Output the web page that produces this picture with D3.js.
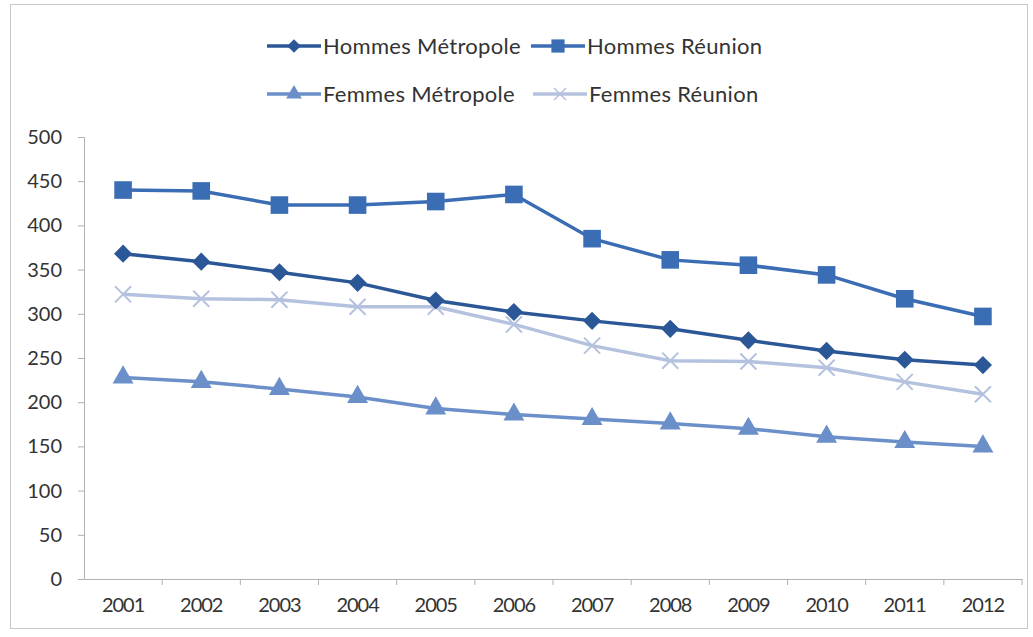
<!DOCTYPE html>
<html>
<head>
<meta charset="utf-8">
<script src="https://cdn.jsdelivr.net/npm/d3@7"></script>
<style>
  body { margin: 0; background: #fff; }
  text { font-family: Lato, "Open Sans", sans-serif; fill: #333; }
</style>
</head>
<body>
<div class="chart"></div>
<script>
// data
var years = ["2001","2002","2003","2004","2005","2006","2007","2008","2009","2010","2011","2012"];
var hommesMetropole = [368, 359, 347, 335, 315, 302, 292, 283, 270, 258, 248, 242];
var hommesReunion   = [440, 439, 423, 423, 427, 435, 385, 361, 355, 344, 317, 297];
var femmesMetropole = [228, 223, 215, 206, 193, 186, 181, 176, 170, 161, 155, 150];
var femmesReunion   = [322, 317, 316, 308, 308, 288, 264, 247, 246, 239, 223, 209];
var yTicks = [0, 50, 100, 150, 200, 250, 300, 350, 400, 450, 500];

var series = [
    {name: "Hommes Métropole", values: hommesMetropole, color: "#2b5797", marker: "diamond"},
    {name: "Hommes Réunion",   values: hommesReunion,   color: "#3a6db3", marker: "square"},
    {name: "Femmes Métropole", values: femmesMetropole, color: "#6b8fc9", marker: "triangle"},
    {name: "Femmes Réunion",   values: femmesReunion,   color: "#b4c2df", marker: "cross"}
];

var W = 1033, H = 637;
var plotLeft = 84, plotRight = 1022, plotTop = 137, plotBottom = 579;

var svg = d3.select("div.chart").append("svg")
    .attr("width", W)
    .attr("height", H);

// outer frame
svg.append("rect")
    .attr("x", 10.5).attr("y", 4.5)
    .attr("width", 1017).attr("height", 624)
    .attr("fill", "none")
    .attr("stroke", "#c8c8c8");

var x = d3.scaleBand().domain(years).range([plotLeft, plotRight]);
var y = d3.scaleLinear().domain([0, 500]).range([plotBottom, plotTop]);

// y axis
var yAxis = svg.append("g")
    .attr("transform", "translate(" + plotLeft + ",0)")
    .call(d3.axisLeft(y).tickValues(yTicks).tickSize(6).tickPadding(16));
yAxis.selectAll("text").attr("font-size", "20px").style("fill", "#333");
yAxis.selectAll("line, path").attr("stroke", "#b0b0b0");

// x axis, ticks between the categories
var xAxis = svg.append("g")
    .attr("transform", "translate(0," + plotBottom + ")")
    .call(d3.axisBottom(x).tickSize(0).tickPadding(19));
xAxis.selectAll("text").attr("font-size", "20px").attr("letter-spacing", "-1px").style("fill", "#333");
xAxis.select("path").attr("stroke", "#b0b0b0");
xAxis.selectAll(".sep")
    .data(years)
    .enter().append("line")
    .attr("class", "sep")
    .attr("x1", function(d){ return x(d) + x.bandwidth(); })
    .attr("x2", function(d){ return x(d) + x.bandwidth(); })
    .attr("y1", 0).attr("y2", 6)
    .attr("stroke", "#b0b0b0");

var cx = function(d, i){ return x(years[i]) + x.bandwidth() / 2; };

var symbols = {
    diamond: d3.symbol().type(d3.symbolSquare).size(165),
    square: d3.symbol().type(d3.symbolSquare).size(310),
    triangle: d3.symbol().type(d3.symbolTriangle).size(190),
    cross: d3.symbol().type(d3.symbolTimes).size(170)
};

function drawMarker(g, s) {
    var p = g.append("path").attr("d", symbols[s.marker]());
    if (s.marker == "cross") {
        p.attr("fill", "none").attr("stroke", s.color).attr("stroke-width", 2);
    } else {
        p.attr("fill", s.color);
    }
    if (s.marker == "diamond") p.attr("transform", "rotate(45)");
    return p;
}

var line = d3.line()
    .x(cx)
    .y(function(d){ return y(d); });

series.slice().reverse().forEach(function(s){
    svg.append("path")
        .datum(s.values)
        .attr("d", line)
        .attr("fill", "none")
        .attr("stroke", s.color)
        .attr("stroke-width", 3.5);
    s.values.forEach(function(v, i){
        var g = svg.append("g")
            .attr("transform", "translate(" + cx(v, i) + "," + y(v) + ")");
        drawMarker(g, s);
    });
});

// legend
var legendPos = [
    {lx: 267, ly: 46},
    {lx: 531, ly: 46},
    {lx: 267, ly: 94},
    {lx: 533, ly: 94}
];
series.forEach(function(s, i){
    var p = legendPos[i];
    var g = svg.append("g").attr("transform", "translate(" + p.lx + "," + p.ly + ")");
    g.append("line")
        .attr("x1", 0).attr("x2", 54)
        .attr("y1", 0).attr("y2", 0)
        .attr("stroke", s.color)
        .attr("stroke-width", 3.5);
    var m = g.append("g").attr("transform", "translate(27,0) scale(0.75)");
    drawMarker(m, s);
    g.append("text")
        .text(s.name)
        .attr("x", 56)
        .attr("y", 8)
        .attr("font-size", "22px")
        .attr("letter-spacing", "0.3px");
});
</script>
</body>
</html>
